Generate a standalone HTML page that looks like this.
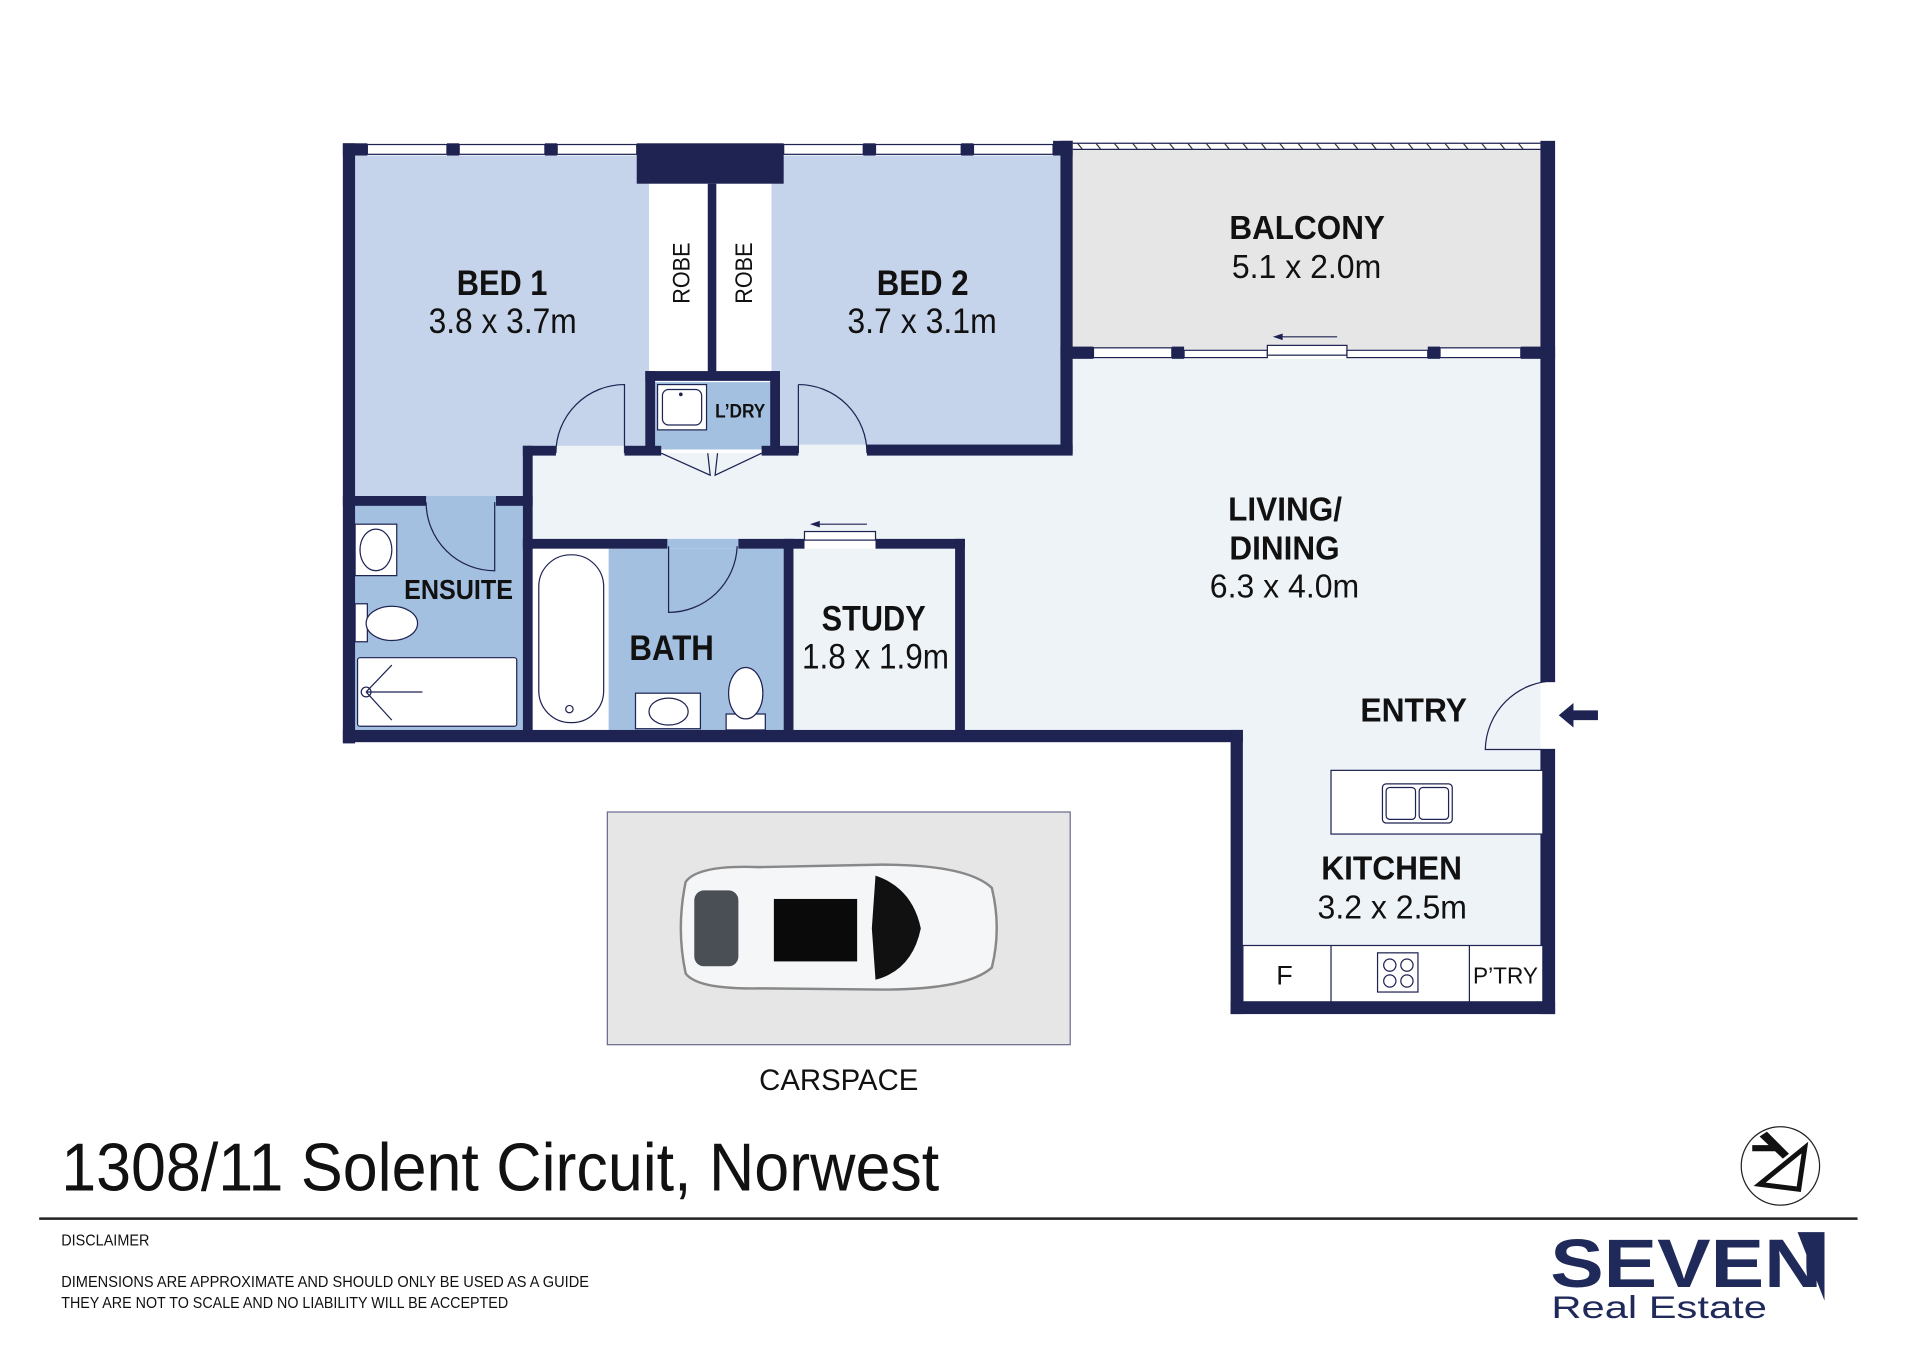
<!DOCTYPE html>
<html><head><meta charset="utf-8"><style>
html,body{margin:0;padding:0;background:#fff;}
svg{display:block;}
.nb{font-family:"Liberation Sans Narrow","Liberation Sans",sans-serif;font-weight:bold;fill:#111;}
.nr{font-family:"Liberation Sans Narrow","Liberation Sans",sans-serif;fill:#111;}
.wb{font-family:"Liberation Sans",sans-serif;font-weight:bold;fill:#111;}
.wr{font-family:"Liberation Sans",sans-serif;fill:#111;}
</style></head><body>
<svg width="1920" height="1357" viewBox="0 0 1568 1108" preserveAspectRatio="none" xmlns="http://www.w3.org/2000/svg">
<rect width="1568" height="1108" fill="#fff"/>
<!-- fills -->
<rect x="876" y="122" width="382" height="163" fill="#e6e6e6"/>
<rect x="290" y="127" width="240" height="280" fill="#c5d4ea"/>
<rect x="630" y="127" width="236" height="238" fill="#c5d4ea"/>
<rect x="533" y="150" width="45" height="155" fill="#fff"/>
<rect x="585" y="150" width="45" height="155" fill="#fff"/>
<rect x="535" y="312" width="95" height="55" fill="#a3c0e0"/>
<rect x="290" y="412" width="137" height="184" fill="#a3c0e0"/>
<rect x="497" y="448" width="143" height="148" fill="#a3c0e0"/>
<rect x="437" y="448" width="60" height="148" fill="#fff"/>
<rect x="648" y="448" width="132" height="148" fill="#eef3f8"/>
<rect x="876" y="293" width="382" height="303" fill="#eef3f8"/>
<rect x="435" y="370" width="441" height="70" fill="#eef3f8"/>
<rect x="788" y="440" width="470" height="156" fill="#eef3f8"/>
<rect x="1015" y="596" width="243" height="222" fill="#eef3f8"/>
<rect x="348" y="405" width="57" height="8" fill="#a3c0e0"/>
<rect x="545" y="440" width="58" height="8" fill="#a3c0e0"/>
<rect x="454" y="364" width="56" height="8" fill="#eef3f8"/>
<rect x="652" y="363" width="56" height="9" fill="#eef3f8"/>
<!-- walls -->
<g fill="#1e2352">
<rect x="280" y="117" width="10" height="490"/>
<rect x="280" y="117" width="20" height="10"/>
<rect x="365" y="117" width="10" height="10"/>
<rect x="445" y="117" width="10" height="10"/>
<rect x="520" y="117" width="120" height="33"/>
<rect x="578" y="150" width="7" height="155"/>
<rect x="705" y="117" width="10" height="10"/>
<rect x="785" y="117" width="10" height="10"/>
<rect x="860" y="115" width="16" height="12"/>
<rect x="866" y="115" width="10" height="255"/>
<rect x="1258" y="115" width="12" height="442"/>
<rect x="1258" y="612" width="12" height="216"/>
<rect x="866" y="283" width="27" height="10"/>
<rect x="957" y="283" width="10" height="10"/>
<rect x="1166" y="283" width="10" height="10"/>
<rect x="1242" y="283" width="28" height="10"/>
<rect x="280" y="596" width="735" height="10"/>
<rect x="1005" y="596" width="10" height="232"/>
<rect x="1005" y="818" width="265" height="10"/>
<rect x="280" y="405" width="68" height="8"/>
<rect x="405" y="405" width="30" height="8"/>
<rect x="427" y="364" width="8" height="236"/>
<rect x="427" y="364" width="27" height="8"/>
<rect x="510" y="364" width="30" height="8"/>
<rect x="527" y="303" width="110" height="8"/>
<rect x="527" y="303" width="8" height="67"/>
<rect x="629" y="303" width="8" height="67"/>
<rect x="622" y="364" width="30" height="8"/>
<rect x="708" y="363" width="168" height="9"/>
<rect x="427" y="440" width="118" height="8"/>
<rect x="603" y="440" width="54" height="8"/>
<rect x="640" y="440" width="8" height="160"/>
<rect x="715" y="440" width="73" height="8"/>
<rect x="780" y="440" width="8" height="160"/>
</g>
<!-- windows -->
<g fill="#fff" stroke="#1e2352" stroke-width="1">
<rect x="300" y="118" width="65" height="8"/><rect x="375" y="118" width="70" height="8"/><rect x="455" y="118" width="65" height="8"/>
<rect x="640" y="118" width="65" height="8"/><rect x="715" y="118" width="70" height="8"/><rect x="795" y="118" width="65" height="8"/>
<rect x="893" y="284" width="64" height="8"/><rect x="967" y="286" width="68" height="6"/><rect x="1035" y="282" width="65" height="8"/><rect x="1100" y="286" width="66" height="6"/><rect x="1176" y="284" width="66" height="8"/>
<rect x="657" y="434" width="58" height="7"/>
</g>
<!-- balcony railing -->
<line x1="876" y1="117" x2="1258" y2="117" stroke="#1e2352" stroke-width="1"/>
<line x1="876" y1="122" x2="1258" y2="122" stroke="#1e2352" stroke-width="1"/>
<path d="M880 117l4 5M895 117l4 5M910 117l4 5M925 117l4 5M940 117l4 5M955 117l4 5M970 117l4 5M985 117l4 5M1000 117l4 5M1015 117l4 5M1030 117l4 5M1045 117l4 5M1060 117l4 5M1075 117l4 5M1090 117l4 5M1105 117l4 5M1120 117l4 5M1135 117l4 5M1150 117l4 5M1165 117l4 5M1180 117l4 5M1195 117l4 5M1210 117l4 5M1225 117l4 5M1240 117l4 5" stroke="#333" stroke-width="1"/>
<!-- sliding arrows -->
<g stroke="#1e2352" stroke-width="1" fill="#1e2352">
<line x1="1045" y1="275" x2="1092" y2="275"/><path d="M1041 275l6-2v4z"/>
<line x1="668" y1="428" x2="708" y2="428"/><path d="M663 428l6-2v4z"/>
</g>
<!-- doors -->
<g fill="none" stroke="#1e2352" stroke-width="1">
<path d="M454 370 A56 56 0 0 1 510 314 L510 370"/>
<path d="M652 314 A56 56 0 0 1 708 370"/><line x1="652" y1="314" x2="652" y2="370"/>
<path d="M348 410 A56 56 0 0 0 404 466 L404 410"/>
<path d="M546 446 L546 500 A56 56 0 0 0 602 446"/>
<path d="M1270 556 A57 57 0 0 0 1213 612 L1270 612"/>
<path d="M540 370 L580 388 L578 370 M622 370 L584 388 L586 370"/>
</g>
<path d="M1273 584 l12 -10 v6 h20 v8 h-20 v6z" fill="#1e2352"/>
<!-- fixtures -->
<g fill="#fff" stroke="#1e2352" stroke-width="1">
<rect x="537" y="314" width="40" height="37"/><rect x="541" y="318" width="32" height="29" rx="5"/>
<rect x="290" y="428" width="34" height="42"/><ellipse cx="307" cy="449" rx="13" ry="17"/>
<rect x="290" y="493" width="10" height="31"/><ellipse cx="320" cy="509" rx="21" ry="14"/>
<rect x="292" y="537" width="130" height="56" rx="2"/><circle cx="299" cy="565" r="4"/>
<rect x="440" y="453" width="53" height="137" rx="26"/><circle cx="465" cy="579" r="3"/>
<rect x="519" y="566" width="53" height="29"/><ellipse cx="546" cy="581" rx="16" ry="11"/>
<rect x="593" y="583" width="32" height="13"/><ellipse cx="609" cy="566" rx="14" ry="21"/>
<rect x="1087" y="629" width="173" height="52"/>
<rect x="1129" y="640" width="57" height="32" rx="3"/><rect x="1132" y="643" width="24" height="26" rx="3"/><rect x="1159" y="643" width="24" height="26" rx="3"/>
<rect x="1015" y="772" width="245" height="46"/>
<line x1="1087" y1="772" x2="1087" y2="818"/><line x1="1200" y1="772" x2="1200" y2="818"/>
<rect x="1125" y="778" width="33" height="32"/>
<circle cx="1135" cy="788" r="5"/><circle cx="1149" cy="788" r="5"/><circle cx="1135" cy="801" r="5"/><circle cx="1149" cy="801" r="5"/>
</g>
<g stroke="#1e2352" stroke-width="1" fill="none"><path d="M299 565 L320 543 M299 565 L345 565 M299 565 L320 588"/></g>
<circle cx="556" cy="322" r="1.5" fill="#1e2352"/>
<!-- labels -->
<text class="nb" x="373" y="241" font-size="29" textLength="74" lengthAdjust="spacingAndGlyphs">BED 1</text>
<text class="nr" x="350" y="272" font-size="29" textLength="121" lengthAdjust="spacingAndGlyphs">3.8 x 3.7m</text>
<text class="nb" x="716" y="241" font-size="29" textLength="75" lengthAdjust="spacingAndGlyphs">BED 2</text>
<text class="nr" x="692" y="272" font-size="29" textLength="122" lengthAdjust="spacingAndGlyphs">3.7 x 3.1m</text>
<text class="nr" font-size="20" transform="translate(563 248) rotate(-90)" textLength="50" lengthAdjust="spacingAndGlyphs">ROBE</text>
<text class="nr" font-size="20" transform="translate(614 248) rotate(-90)" textLength="50" lengthAdjust="spacingAndGlyphs">ROBE</text>
<text class="nb" x="584" y="341" font-size="16" textLength="41" lengthAdjust="spacingAndGlyphs">L’DRY</text>
<text class="nb" x="330" y="489" font-size="23" textLength="89" lengthAdjust="spacingAndGlyphs">ENSUITE</text>
<text class="nb" x="514" y="539" font-size="29" textLength="69" lengthAdjust="spacingAndGlyphs">BATH</text>
<text class="nb" x="671" y="515" font-size="29" textLength="85" lengthAdjust="spacingAndGlyphs">STUDY</text>
<text class="nr" x="655" y="546" font-size="29" textLength="120" lengthAdjust="spacingAndGlyphs">1.8 x 1.9m</text>
<text class="wb" x="1004" y="195" font-size="27" textLength="127" lengthAdjust="spacingAndGlyphs">BALCONY</text>
<text class="wr" x="1006" y="227" font-size="27" textLength="122" lengthAdjust="spacingAndGlyphs">5.1 x 2.0m</text>
<text class="wb" x="1003" y="425" font-size="27" textLength="93" lengthAdjust="spacingAndGlyphs">LIVING/</text>
<text class="wb" x="1004" y="457" font-size="27" textLength="90" lengthAdjust="spacingAndGlyphs">DINING</text>
<text class="wr" x="988" y="488" font-size="27" textLength="122" lengthAdjust="spacingAndGlyphs">6.3 x 4.0m</text>
<text class="wb" x="1111" y="589" font-size="27" textLength="87" lengthAdjust="spacingAndGlyphs">ENTRY</text>
<text class="wb" x="1079" y="718" font-size="27" textLength="115" lengthAdjust="spacingAndGlyphs">KITCHEN</text>
<text class="wr" x="1076" y="750" font-size="27" textLength="122" lengthAdjust="spacingAndGlyphs">3.2 x 2.5m</text>
<text class="wr" x="1049" y="804" font-size="22" text-anchor="middle">F</text>
<text class="wr" x="1203" y="803" font-size="19" textLength="53" lengthAdjust="spacingAndGlyphs">P’TRY</text>
<!-- carspace -->
<rect x="496" y="663" width="378" height="190" fill="#e6e6e6" stroke="#6a6a90" stroke-width="1"/>
<path d="M560 720 Q570 706 620 708 L720 706 Q790 706 810 725 Q818 758 810 790 Q790 808 720 808 L620 807 Q570 808 560 795 Q552 758 560 720z" fill="#f4f6f8" stroke="#888" stroke-width="2"/>
<rect x="567" y="727" width="36" height="62" rx="8" fill="#4a4f55"/>
<rect x="632" y="734" width="68" height="51" fill="#0a0a0a"/>
<path d="M715 715 Q745 725 752 758 Q745 792 715 800 L712 758z" fill="#111"/>
<text class="nr" x="620" y="890" font-size="24" textLength="130" lengthAdjust="spacingAndGlyphs">CARSPACE</text>
<!-- title -->
<text class="nr" x="50" y="972" font-size="55" textLength="717" lengthAdjust="spacingAndGlyphs">1308/11 Solent Circuit, Norwest</text>
<line x1="32" y1="995" x2="1517" y2="995" stroke="#222" stroke-width="2"/>
<text class="nr" x="50" y="1017" font-size="13" textLength="72" lengthAdjust="spacingAndGlyphs">DISCLAIMER</text>
<text class="nr" x="50" y="1051" font-size="13" textLength="431" lengthAdjust="spacingAndGlyphs">DIMENSIONS ARE APPROXIMATE AND SHOULD ONLY BE USED AS A GUIDE</text>
<text class="nr" x="50" y="1068" font-size="13" textLength="365" lengthAdjust="spacingAndGlyphs">THEY ARE NOT TO SCALE AND NO LIABILITY WILL BE ACCEPTED</text>
<!-- logo -->
<circle cx="1454" cy="952" r="32" fill="#fff" stroke="#222" stroke-width="1"/>
<path d="M1437 928 l6 -4 l18 18 l-5 4z M1431 935 h22 v5 h-22z" fill="#111"/>
<path d="M1437 967 L1474 937 L1469 971z" fill="#fff" stroke="#111" stroke-width="4" stroke-linejoin="miter"/>
<text x="1266" y="1051" font-family="Liberation Sans,sans-serif" font-weight="900" font-size="56" fill="#1f2a5a" textLength="222" lengthAdjust="spacingAndGlyphs">SEVEN</text>
<path d="M1468 1006 h22 v56z" fill="#1f2a5a"/>
<text x="1267" y="1076" font-family="Liberation Sans,sans-serif" font-size="26" fill="#1f2a5a" textLength="176" lengthAdjust="spacingAndGlyphs">Real Estate</text>
</svg>
</body></html>
